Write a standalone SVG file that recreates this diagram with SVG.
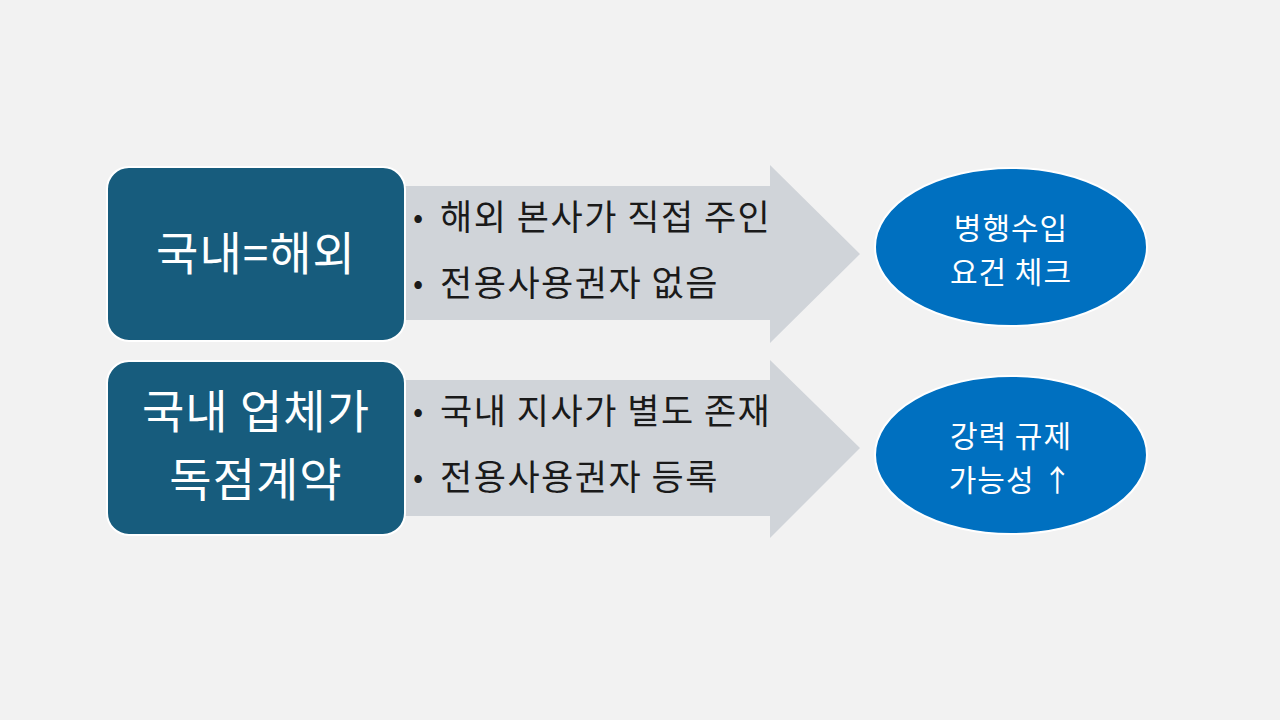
<svg xmlns="http://www.w3.org/2000/svg" width="1280" height="720" viewBox="0 0 1280 720">
<style>
.box{fill:#175c7d;stroke:#ffffff;stroke-width:2}
.arr{fill:#d0d4d9}
.ell{fill:#0070c0;stroke:#ffffff;stroke-width:2}
.bt{font-family:"Noto Sans CJK KR","Noto Sans",sans-serif;font-size:46px;fill:#ffffff;text-anchor:middle;letter-spacing:1px}
.li{font-family:"Noto Sans CJK KR","Noto Sans",sans-serif;font-size:35px;fill:#1a1a1a;letter-spacing:1.5px}
.dot{font-family:"Noto Sans CJK KR","Noto Sans",sans-serif;font-size:30px;fill:#1a1a1a}
.et{font-family:"Noto Sans CJK KR","Noto Sans",sans-serif;font-size:30px;fill:#ffffff;text-anchor:middle;letter-spacing:1px}
</style>
<rect width="1280" height="720" fill="#f2f2f2"/>
<g id="connectors">
<polygon class="arr" points="390,186 770,186 770,165 860,254 770,343 770,320 390,320"/>
<polygon class="arr" points="390,380 770,380 770,360 860,448 770,538 770,516 390,516"/>
</g>
<g id="node1"><rect class="box" x="107" y="167" width="298" height="174" rx="22"/><text class="bt" x="256" y="270">국내=해외</text></g>
<g id="list1"><text class="dot" x="413" y="228">•</text><text class="li" x="440" y="230">해외 본사가 직접 주인</text><text class="dot" x="413" y="294">•</text><text class="li" x="440" y="296">전용사용권자 없음</text></g>
<g id="node2"><rect class="box" x="107" y="361" width="298" height="174" rx="22"/><text class="bt" x="256" y="428">국내 업체가</text><text class="bt" x="256" y="496">독점계약</text></g>
<g id="list2"><text class="dot" x="413" y="422">•</text><text class="li" x="440" y="424">국내 지사가 별도 존재</text><text class="dot" x="413" y="488">•</text><text class="li" x="440" y="490">전용사용권자 등록</text></g>
<g id="out1"><ellipse class="ell" cx="1011" cy="247" rx="136" ry="79"/><text class="et" x="1011" y="239">병행수입</text><text class="et" x="1011" y="283">요건 체크</text></g>
<g id="out2"><ellipse class="ell" cx="1011" cy="455" rx="136" ry="79"/><text class="et" x="1011" y="447">강력 규제</text><text class="et" x="1011" y="491">가능성 ↑</text></g>
</svg>
